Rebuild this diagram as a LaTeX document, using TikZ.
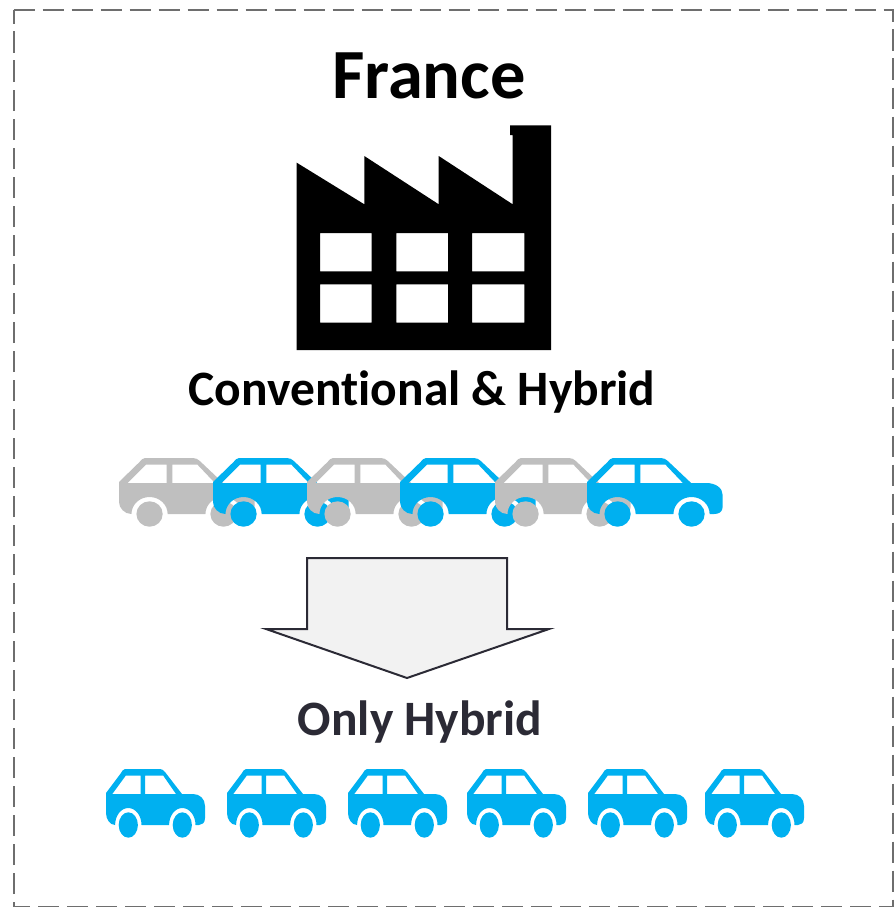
\documentclass[tikz,border=0pt]{standalone}
\usepackage{fontspec}
\setmainfont[Ligatures=CommonOff]{Carlito}
\definecolor{carblue}{RGB}{0, 176, 240}
\definecolor{cargray}{RGB}{191, 191, 191}
\definecolor{darktext}{RGB}{43, 42, 53}
\definecolor{framegray}{RGB}{110, 110, 110}
\definecolor{arrowfill}{RGB}{242, 242, 242}
\usetikzlibrary{positioning}
\tikzset{
  car/.pic={
    \fill[even odd rule, pic actions] (19,0) -- (54,0) to[out=0, in=130] (59,3) -- (76,25) -- (87,25)
      .. controls (94,25) and (99,30) .. (99,37) -- (99,49) .. controls (99,54) and (96,56) .. (93,56) -- (89.5,56)
      arc[start angle=0, end angle=-180, x radius=13.2, y radius=17] -- (35.5,56)
      arc[start angle=0, end angle=-180, x radius=13.2, y radius=17] -- (9,56)
      .. controls (4,56) and (0,50) .. (0,44) -- (0,24) -- (15,4) to[out=50, in=180] (19,0) -- cycle
      (6.3,25) -- (19.7,6.7) -- (34.7,6.7) -- (34.7,25) -- cycle
      (39,25) -- (39,6.7) -- (57.3,6.7) -- (70,25) -- cycle;
    \fill[pic actions] (22.3,56) ellipse[x radius=9.6, y radius=12.7];
    \fill[pic actions] (76.3,56) ellipse[x radius=9.6, y radius=12.7];
  }
}
\begin{document}
\begin{tikzpicture}[x=1pt, y=-1pt,
  title/.style={font=\bfseries\fontsize{70.5}{70.5}\selectfont, inner sep=0pt},
  label/.style={font=\bfseries\fontsize{49.5}{49.5}\selectfont, inner sep=0pt}
]
  \useasboundingbox (0,0) rectangle (894,907);
  \draw[framegray, line width=2pt, dash pattern=on 21.5pt off 7.5pt] (13.5,10) -- (893,10) -- (893,906.5) -- (13.5,906.5) -- cycle;

  \node[title] (france) at (429,76) {France};
  % factory
  \fill[even odd rule] (296.7,350) -- (296.7,162.7) -- (364.3,204.3) -- (364.3,156) -- (438.7,204.3) -- (438.7,156)
    -- (512.7,204.3) -- (512.7,135) -- (510,135) -- (510,125.3) -- (551,125.3) -- (551,350) -- cycle
    (320,233) rectangle (371.7,271.3) (396.3,233) rectangle (448,271.3) (472,233) rectangle (524.3,271.3)
    (320,284.3) rectangle (371.7,322.7) (396.3,284.3) rectangle (448,322.7) (472,284.3) rectangle (524.3,322.7);
  \node[label] (mixed) at (422,392) {Conventional \& Hybrid};

  % mixed row
  \pic[cargray, xscale=1.37] at (119,458) {car};
  \pic[carblue, xscale=1.37] at (213,458) {car};
  \pic[cargray, xscale=1.37] at (307,458) {car};
  \pic[carblue, xscale=1.37] at (400,458) {car};
  \pic[cargray, xscale=1.37] at (495,458) {car};
  \pic[carblue, xscale=1.37] at (587,458) {car};

  \draw[darktext, line width=2pt, fill=arrowfill, miter limit=20] (307,558) -- (507,558) -- (507,629) -- (549,629)
    -- (407,678) -- (266,629) -- (307,629) -- cycle;

  \node[label, text=darktext] (hybrid) at (420,722) {Only Hybrid};

  % hybrid row
  \pic[carblue] at (106,769) {car};
  \pic[carblue] at (227,769) {car};
  \pic[carblue] at (348,769) {car};
  \pic[carblue] at (467,769) {car};
  \pic[carblue] at (588,769) {car};
  \pic[carblue] at (705,769) {car};
\end{tikzpicture}
\end{document}
